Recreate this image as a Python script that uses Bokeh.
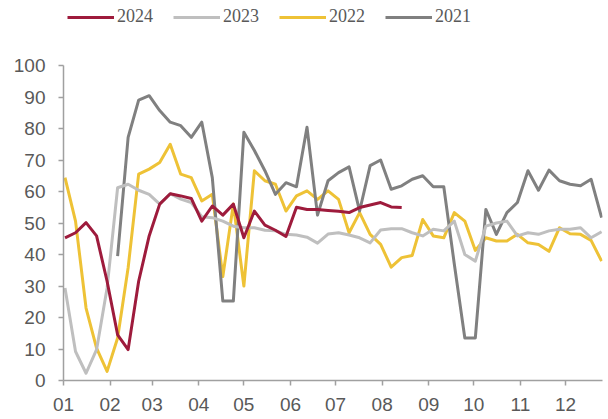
import numpy as np
from bokeh.plotting import figure
from bokeh.models import Range1d, FixedTicker, Legend, LegendItem, ColumnDataSource
from bokeh.embed import file_html
from bokeh.resources import INLINE

# weekly observations, x = day of year of each week
weeks = list(range(52))
day_of_year = [1 + 7 * w for w in weeks]

month_ticks = [0, 31, 59, 90, 120, 151, 181, 212, 243, 273, 304, 334]
month_labels = ["01", "02", "03", "04", "05", "06", "07", "08", "09", "10", "11", "12"]
y_ticks = [0, 10, 20, 30, 40, 50, 60, 70, 80, 90, 100]

s2024 = [45.3, 46.9, 50.1, 45.9, 31.5, 14.5, 9.8, 31.5, 45.9, 56.0, 59.3, 58.6,
         57.8, 50.6, 55.4, 52.5, 56.0, 45.3, 53.8, 49.3, 47.7, 45.7, 55.0, 54.3,
         54.3, 54.0, 53.7, 53.3, 54.9, 55.7, 56.5, 55.1, 54.9,
         None, None, None, None, None, None, None, None, None, None, None, None,
         None, None, None, None, None, None, None]
s2023 = [29.4, 9.2, 2.3, 9.8, 29.4, 61.2, 62.3, 60.4, 59.1, 56.0, 59.3, 57.6,
         56.5, 52.0, 51.7, 50.6, 49.0, 48.5, 48.5, 47.7, 47.5, 46.4, 46.2, 45.5,
         43.6, 46.5, 46.9, 46.2, 45.3, 43.7, 47.8, 48.2, 48.2, 46.9, 45.9, 48.0,
         47.5, 50.6, 40.0, 37.9, 49.0, 50.0, 50.6, 45.9, 46.9, 46.4, 47.5, 48.0,
         48.0, 48.5, 45.3, 47.2]
s2022 = [64.4, 50.6, 23.0, 10.3, 2.9, 13.5, 35.8, 65.5, 67.1, 69.2, 75.0, 65.5,
         64.4, 57.0, 59.1, 33.0, 56.0, 30.0, 66.6, 63.4, 62.3, 53.8, 58.6, 60.2,
         57.5, 60.2, 57.5, 46.9, 53.3, 46.4, 43.2, 36.0, 39.0, 39.7, 51.1, 45.9,
         45.3, 53.3, 50.6, 41.3, 45.3, 44.3, 44.3, 46.4, 43.7, 43.2, 41.0, 48.5,
         46.6, 46.4, 44.5, 37.9]
s2021 = [None, None, None, None, None, 39.5, 77.2, 89.0, 90.4, 85.7, 82.0, 80.9,
         77.2, 82.0, 64.4, 25.2, 25.2, 78.8, 73.0, 66.6, 59.1, 62.8, 61.5, 80.4,
         52.5, 63.4, 66.0, 67.8, 53.8, 68.2, 70.0, 60.7, 61.8, 63.9, 65.0, 61.5,
         61.5, 37.0, 13.5, 13.5, 54.3, 46.4, 53.3, 56.5, 66.6, 60.4, 66.8, 63.4,
         62.3, 61.8, 63.9, 51.7]

series_names = ["2024", "2023", "2022", "2021"]
series_values = [s2024, s2023, s2022, s2021]
series_colors = ["#9E1B3C", "#BFBFBF", "#EEC236", "#808080"]


def arr(v):
    return np.array([np.nan if a is None else a for a in v], dtype=float)


# frame spans the full height (legend lives inside it); y axis is bounded to 0..100
p = figure(width=608, height=419, output_backend="svg", toolbar_location=None,
           x_range=Range1d(0, 358.6), y_range=Range1d(0, 100 * 380 / 315),
           min_border_left=63, min_border_right=6, min_border_top=0,
           min_border_bottom=39)
p.outline_line_color = None
p.grid.visible = False
p.background_fill_color = "white"

renderers = {}
draw_order = ["2022", "2021", "2023", "2024"]
for name in draw_order:
    idx = series_names.index(name)
    src = ColumnDataSource(dict(x=day_of_year, y=arr(series_values[idx])))
    r = p.line("x", "y", source=src, line_color=series_colors[idx], line_width=3,
               line_join="round")
    renderers[name] = r

items = [LegendItem(label=n, renderers=[renderers[n]]) for n in series_names]
legend = Legend(items=items, orientation="horizontal", location=(4, 353),
                glyph_width=47, glyph_height=16, label_height=16, label_width=20,
                label_standoff=3, spacing=20, padding=0, margin=0,
                border_line_color=None, background_fill_alpha=0,
                label_text_font="Liberation Serif", label_text_font_size="18px",
                label_text_color="#595959")
p.add_layout(legend)

axis_color = "#A0A0A0"
label_color = "#595959"

xa = p.xaxis[0]
xa.ticker = FixedTicker(ticks=month_ticks)
xa.major_label_overrides = {t: l for t, l in zip(month_ticks, month_labels)}
xa.minor_tick_line_color = None
xa.major_tick_in = 0
xa.major_tick_out = 5
xa.axis_line_color = axis_color
xa.axis_line_width = 1.5
xa.major_tick_line_color = axis_color
xa.major_tick_line_width = 1.5
xa.major_label_standoff = 12
xa.major_label_text_font = "Liberation Sans"
xa.major_label_text_font_size = "19px"
xa.major_label_text_color = label_color

ya = p.yaxis[0]
ya.ticker = FixedTicker(ticks=y_ticks)
ya.bounds = (0, 100)
ya.minor_tick_line_color = None
ya.major_tick_in = 0
ya.major_tick_out = 5
ya.axis_line_color = axis_color
ya.axis_line_width = 1.5
ya.major_tick_line_color = axis_color
ya.major_tick_line_width = 1.5
ya.major_label_standoff = 13
ya.major_label_text_font = "Liberation Sans"
ya.major_label_text_font_size = "19px"
ya.major_label_text_color = label_color

open("out.html", "w").write(file_html(p, INLINE))
